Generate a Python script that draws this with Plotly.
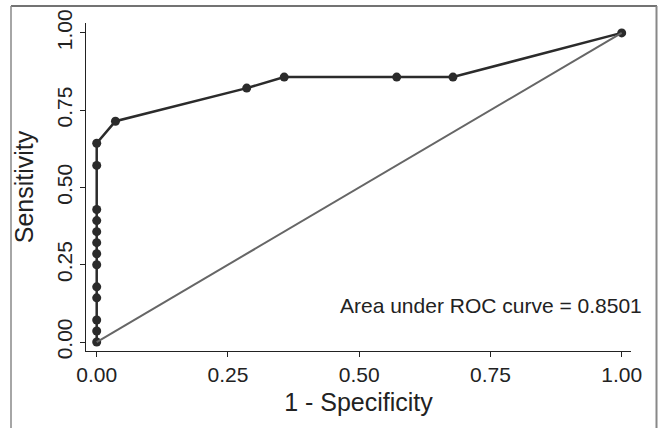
import plotly.graph_objects as go

# ROC curve data (1 - specificity, sensitivity), 28 positives / 28 negatives
fpr = [0, 0, 0, 0, 0, 0, 0, 0, 0, 0, 0, 0, 0, 1/28, 8/28, 10/28, 16/28, 19/28, 1]
tpr = [0, 1/28, 2/28, 4/28, 5/28, 7/28, 8/28, 9/28, 10/28, 11/28, 12/28, 16/28, 18/28,
       20/28, 23/28, 24/28, 24/28, 24/28, 1]
ref_x = [0, 1]
ref_y = [0, 1]
tick_vals = [0, 0.25, 0.5, 0.75, 1.0]
tick_text = ["0.00", "0.25", "0.50", "0.75", "1.00"]
auc_label = "Area under ROC curve = 0.8501"

W, H = 659, 428
L, R, T, B = 86, 28, 23, 77
pw, ph = W - L - R, H - T - B

def px_x(p):
    return (p - L) / pw

def px_y(p):
    return (H - B - p) / ph

FONT = "Liberation Sans, Arial, sans-serif"
TXT = "#222222"

fig = go.Figure()
fig.add_trace(go.Scatter(
    x=fpr, y=tpr, mode="lines+markers",
    line=dict(color="#2b2b2b", width=2.5),
    marker=dict(color="#2b2b2b", size=9),
    showlegend=False, hoverinfo="skip"))
fig.add_trace(go.Scatter(
    x=ref_x, y=ref_y, mode="lines",
    line=dict(color="#666666", width=2),
    showlegend=False, hoverinfo="skip"))

fig.update_layout(
    width=W, height=H,
    margin=dict(l=L, r=R, t=T, b=B, pad=0, autoexpand=False),
    paper_bgcolor="white", plot_bgcolor="white",
    font=dict(family=FONT, size=21, color=TXT),
    xaxis=dict(range=[-0.0204, 1.0177], tickvals=tick_vals, ticktext=tick_text,
               showgrid=False, zeroline=False, showline=True, linecolor="#222222",
               linewidth=1, ticks="outside", ticklen=5, tickcolor="#222222",
               automargin=False,
               title=dict(text="1 - Specificity", standoff=8),
               tickfont=dict(size=21)),
    yaxis=dict(range=[-0.029, 1.032], tickvals=tick_vals, ticktext=tick_text,
               showgrid=False, zeroline=False, showline=True, linecolor="#222222",
               linewidth=1, ticks="outside", ticklen=5, tickcolor="#222222",
               automargin=False,
               tickangle=-90, title=dict(text="Sensitivity", standoff=11),
               tickfont=dict(size=21)),
    annotations=[dict(text=auc_label, xref="paper", yref="paper",
                      x=px_x(644), y=px_y(305), xanchor="right", yanchor="middle",
                      showarrow=False, font=dict(size=21, color=TXT))],
    shapes=[
        dict(type="line", xref="paper", yref="paper", x0=px_x(11), x1=px_x(657),
             y0=px_y(6), y1=px_y(6), line=dict(color="#444444", width=1.5)),
        dict(type="line", xref="paper", yref="paper", x0=px_x(11), x1=px_x(11),
             y0=px_y(6), y1=px_y(430), line=dict(color="#888888", width=1.5)),
        dict(type="line", xref="paper", yref="paper", x0=px_x(656.5), x1=px_x(656.5),
             y0=px_y(6), y1=px_y(430), line=dict(color="#888888", width=2)),
    ],
)

fig.write_html("out.html", config={"displayModeBar": False},
               post_script="document.body.style.margin='0';document.body.style.overflow='hidden';")
